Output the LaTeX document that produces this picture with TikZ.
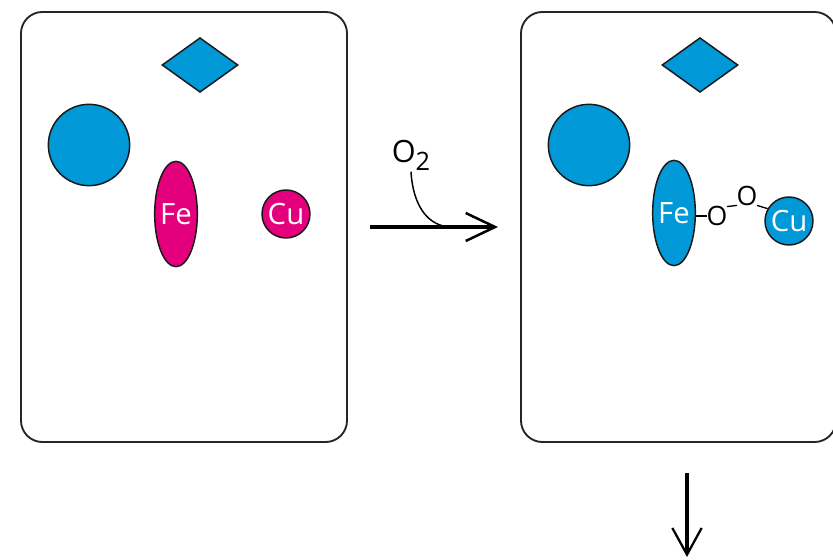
\documentclass[tikz,border=0pt]{standalone}
\usepackage{fontspec}
\usepackage{xcolor}
\usepackage{tikz}
\usetikzlibrary{shapes.geometric,arrows.meta}
\newfontfamily\atomfont{Open Sans}
\definecolor{protblue}{RGB}{0, 152, 214}
\definecolor{hememag}{RGB}{228, 0, 124}

\begin{document}
\begin{tikzpicture}[x=0.75pt,y=0.75pt,yscale=-1,xscale=1,
  cellbox/.style={draw=black!85,line width=1.4pt,rounded corners=16pt},
  part/.style={draw=black!90,line width=1.1pt,inner sep=0pt},
  atom/.style={part,inner sep=-5pt,text=white,font=\atomfont\fontsize{22}{22}\selectfont},
  oxy/.style={inner sep=-0.5pt,font=\atomfont\fontsize{20}{20}\selectfont},
  bond/.style={line width=1pt}]
\useasboundingbox (0,0) rectangle (833,560);

%Rounded boxes
\draw[cellbox] (21,12) rectangle (347,442);
\draw[cellbox] (521,12) rectangle (836,442);

%Left cell, before
\node[part,diamond,fill=protblue,minimum width=57pt,minimum height=41pt] (diamA) at (200,65) {};
\node[part,circle,fill=protblue,minimum size=61pt] (ballA) at (89,145) {};
\node[atom,ellipse,fill=hememag,minimum width=32pt,minimum height=79pt] (feA) at (176,214) {Fe};
\node[atom,circle,fill=hememag,minimum size=36pt] (cuA) at (286,214) {Cu};

%Right cell, after
\node[part,diamond,fill=protblue,minimum width=57pt,minimum height=41pt] (diamB) at (700,65) {};
\node[part,circle,fill=protblue,minimum size=61pt] (ballB) at (589,145) {};
\node[atom,ellipse,fill=protblue,minimum width=32pt,minimum height=79pt] (feB) at (674,213) {Fe};
\node[atom,circle,fill=protblue,minimum size=36pt] (cuB) at (789,221) {Cu};
\node[oxy] (oxA) at (717,216) {O};
\node[oxy] (oxB) at (747,196) {O};
\draw[bond] (oxA.west -| feB.east) -- (oxA.west);
\draw[bond] (oxA.north east) -- (oxB.south west);
\draw[bond] (oxB.south east) -- (cuB.150);

%Reaction arrow
\coordinate (stepin) at (370,227);
\coordinate (stepout) at (498,227);
\coordinate (join) at (452,227);
\draw[line width=3pt,-{Straight Barb[length=22pt,width=21pt,line width=1.9pt]}] (stepin) -- (stepout);
% Text Node
\node[inner sep=1pt,font=\atomfont\fontsize{23}{23}\selectfont] (otwo) at (411,155) {O\raisebox{-6pt}{\fontsize{19}{19}\selectfont 2}};
\draw[line width=1.1pt] (otwo.south) .. controls +(2,34) and +(-24,0) .. (join);

%Down arrow
\coordinate (downtop) at (687,473);
\coordinate (downtip) at (687,557);
\draw[line width=2.6pt,-{Straight Barb[length=20pt,width=22pt,line width=1.7pt]}] (downtop) -- (downtip);

\end{tikzpicture}
\end{document}
